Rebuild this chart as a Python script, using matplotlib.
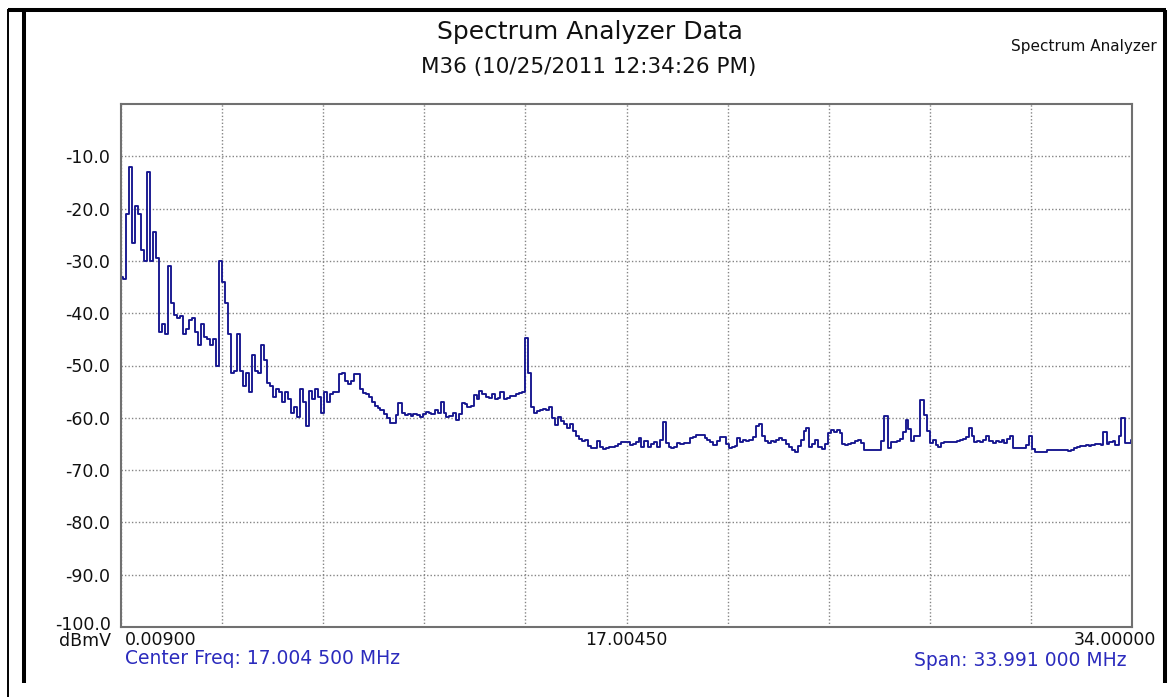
import numpy as np
import matplotlib

matplotlib.use("Agg")
import matplotlib.pyplot as plt
from matplotlib.lines import Line2D

W, H = 1169, 697
plt.rcParams["font.family"] = ["DejaVu Sans"]

# sweep settings (MHz)
FREQ_START = 0.009
FREQ_STOP = 34.0

# measured level per sweep bin, dBmV
level_dbmv = [
    -33, -33.5, -21, -12, -26.5, -19.5, -21, -28, -30, -13,
    -30, -24.5, -29.5, -43.5, -42, -44, -31, -38, -40.3, -41,
    -40.5, -44, -43, -41.3, -41, -43.5, -46, -42, -44.5, -45,
    -46, -45, -50, -30, -34, -38, -44, -51.5, -51, -44,
    -51, -54, -51.5, -55, -48, -51, -51.5, -46, -49, -53.4,
    -54, -56, -54.5, -55, -57, -55, -56.5, -59, -58, -59.8,
    -54.5, -57, -61.5, -54.8, -56.5, -54.5, -56, -59, -55, -57,
    -55.5, -55, -55, -51.6, -51.5, -53, -53.5, -53, -51.6, -51.7,
    -54.5, -55.3, -55.5, -56, -57, -57.7, -58.1, -58.5, -59.2, -60,
    -61, -61, -59.5, -57.2, -59, -59.5, -59.3, -59.6, -59.3, -59.4,
    -59.8, -59.2, -58.8, -59, -59.2, -58.5, -59, -57, -59, -59.8,
    -59.6, -59, -60.4, -59.2, -57.2, -57.3, -58, -57.7, -55.6, -56.5,
    -54.8, -55.5, -56, -56.3, -55.5, -56.5, -56.2, -55, -56.5, -56.2,
    -55.8, -55.8, -55.5, -55.3, -55, -44.8, -51.5, -58, -59, -58.7,
    -58.5, -58.3, -58.6, -58, -60, -61.3, -59.8, -60.6, -61.2, -62,
    -61.2, -62.5, -63.4, -64, -64.5, -64.3, -65.3, -65.8, -65.8, -64.5,
    -65.5, -66, -65.8, -65.5, -65.6, -65.3, -65, -64.6, -64.6, -64.7,
    -65.2, -65, -64.6, -63.9, -65.5, -64.5, -65.5, -65, -64.6, -65.5,
    -64.2, -60.8, -64.8, -65.5, -65.8, -65.5, -64.8, -65, -64.8, -64.8,
    -63.8, -63.7, -63.3, -63.2, -63.3, -63.9, -64.3, -64.7, -65.2, -64.4,
    -63.7, -63.6, -65, -65.8, -65.6, -65.4, -63.9, -64.6, -64.3, -64.4,
    -64.2, -63.6, -61.5, -61.2, -63.4, -64.5, -64.8, -64.5, -64.6, -64.3,
    -63.8, -64.2, -65, -65.6, -66.2, -66.6, -65.3, -64.2, -62.5, -62,
    -65.5, -65, -64.3, -65.5, -66, -65, -63, -62.3, -62.8, -62.3,
    -63, -65, -65.2, -65, -64.8, -64.5, -64.2, -64.9, -66.2, -66.2,
    -66.2, -66.2, -66.2, -66.2, -64.4, -59.7, -65.8, -64.6, -64.6, -64.4,
    -64, -62.8, -60.5, -62.2, -64.5, -63.5, -63.5, -56.6, -59.5, -62.5,
    -64.8, -64.3, -65.2, -65.5, -64.8, -64.7, -64.6, -64.7, -64.6, -64.4,
    -64.3, -64.1, -63.7, -62, -63.5, -64.6, -64.4, -64.6, -64.2, -63.5,
    -64.4, -64.8, -64.4, -64.6, -64.2, -64.8, -64, -63.5, -65.8, -65.8,
    -65.8, -65.8, -65.2, -63.5, -66, -66.6, -66.6, -66.6, -66.5, -66.2,
    -66.2, -66.2, -66.2, -66.2, -66.2, -66.1, -66.3, -66.1, -65.8, -65.6,
    -65.4, -65.3, -65.2, -65.4, -65.2, -65, -65, -65.2, -62.7, -65,
    -64.6, -64.4, -65.2, -63.5, -60, -64.8, -64.8, -64.2,
]

y_ticks = [-100, -90, -80, -70, -60, -50, -40, -30, -20, -10]
x_labels = ["0.00900", "17.00450", "34.00000"]

TRACE = "#15158f"
BLUE_TEXT = "#2b2bbd"
GRID = "#858585"
INK = "#111111"

freq = np.linspace(FREQ_START, FREQ_STOP, len(level_dbmv))


def px(x, y):
    """pixel position -> figure fraction"""
    return x / W, 1 - y / H


fig = plt.figure(figsize=(W / 100, H / 100), dpi=100)
fig.patch.set_facecolor("white")

ax = fig.add_axes([121 / W, 1 - 627 / H, 1011 / W, 523 / H])
ax.plot(freq, level_dbmv, color=TRACE, linewidth=1.35, drawstyle="steps-mid")

ax.set_xlim(FREQ_START, FREQ_STOP)
ax.set_ylim(-100, 0)
ax.set_xticks(np.linspace(FREQ_START, FREQ_STOP, 11))
ax.set_yticks(y_ticks)
# bottom label is drawn by hand so the unit can sit under it
ax.set_yticklabels([""] + [f"{v:.1f}" for v in y_ticks[1:]])
ax.tick_params(axis="x", length=0, labelbottom=False)
ax.tick_params(axis="y", length=0, pad=8, labelsize=12.5, labelcolor=INK)
ax.grid(True, color=GRID, linestyle=(0, (1, 1.5)), linewidth=1.0)
ax.set_axisbelow(True)
for spine in ax.spines.values():
    spine.set_color("#707070")
    spine.set_linewidth(1.5)

fig.text(*px(111, 625), f"{y_ticks[0]:.1f}", ha="right", va="center", fontsize=12.5, color=INK)
fig.text(*px(111, 641), "dBmV", ha="right", va="center", fontsize=12.5, color=INK)

# frequency labels under the graticule
fig.text(*px(125, 640), x_labels[0], ha="left", va="center", fontsize=12.5, color=INK)
fig.text(*px(626, 640), x_labels[1], ha="center", va="center", fontsize=12.5, color=INK)
fig.text(*px(1156, 640), x_labels[2], ha="right", va="center", fontsize=12.5, color=INK)

fig.text(*px(125, 659), "Center Freq: 17.004 500 MHz", ha="left", va="center",
         fontsize=13.5, color=BLUE_TEXT)
fig.text(*px(1126, 660), "Span: 33.991 000 MHz", ha="right", va="center",
         fontsize=13.5, color=BLUE_TEXT)

# titles
fig.text(*px(590, 32), "Spectrum Analyzer Data", ha="center", va="center", fontsize=18,
         color=INK)
fig.text(*px(589, 67), "M36 (10/25/2011 12:34:26 PM)", ha="center", va="center",
         fontsize=15.5, color=INK)
fig.text(*px(1157, 47), "Spectrum Analyzer", ha="right", va="center", fontsize=11,
         color=INK)

# window frame
frame = [
    ((8, 10), (1166, 10), 2.9),
    ((8, 9), (8, 697), 1.4),
    ((23.5, 10), (23.5, 683), 2.9),
    ((1164.5, 10), (1164.5, 683), 2.9),
]
for (x0, y0), (x1, y1), lw in frame:
    fig.add_artist(Line2D([x0 / W, x1 / W], [1 - y0 / H, 1 - y1 / H],
                          transform=fig.transFigure, color="black", linewidth=lw,
                          solid_capstyle="butt"))

fig.savefig("out.png", dpi=100)
